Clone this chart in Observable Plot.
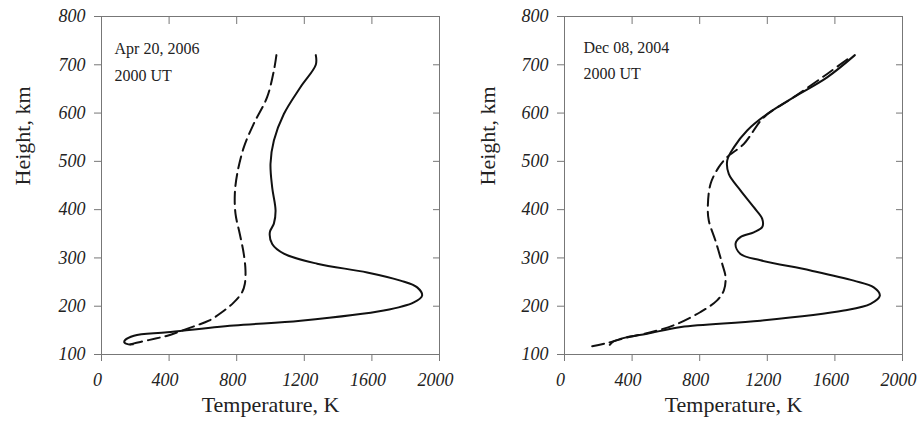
<!DOCTYPE html>
<html><head><meta charset="utf-8">
<script src="https://cdn.jsdelivr.net/npm/d3@7"></script>
<script src="https://cdn.jsdelivr.net/npm/@observablehq/plot@0.6"></script>
<style>
body{margin:0;background:#fff;}
#wrap{position:relative;width:918px;height:421px;overflow:hidden;}
.panel{position:absolute;top:0;}
</style>
</head><body><div id="wrap"></div>
<script>
const xTicks = [0, 400, 800, 1200, 1600, 2000];
const yTicks = [100, 200, 300, 400, 500, 600, 700, 800];
const xTitle = "Temperature, K";
const yTitle = "Height, km";

// Apr 20, 2006 — solid
const aprSolidH = [720, 700, 654, 598, 543, 495, 446, 398, 371, 353, 329, 309, 288, 270, 253, 239, 222, 208, 191, 170, 160, 146, 139, 130, 125, 121, 121];
const aprSolidT = [1268, 1268, 1178, 1079, 1020, 1000, 1010, 1030, 1020, 996, 1010, 1079, 1276, 1572, 1769, 1868, 1897, 1848, 1670, 1178, 783, 389, 192, 140, 135, 160, 185];
// Apr 20, 2006 — dashed
const aprDashH = [720, 688, 633, 578, 529, 474, 433, 391, 350, 308, 274, 246, 229, 208, 188, 170, 160, 150, 139, 133, 126, 121];
const aprDashT = [1035, 1020, 980, 901, 842, 803, 789, 793, 818, 842, 852, 848, 832, 783, 714, 635, 560, 480, 390, 320, 230, 170];

// Dec 08, 2004 — solid
const decSolidH = [720, 674, 633, 598, 564, 529, 502, 474, 440, 405, 381, 364, 353, 343, 329, 308, 295, 274, 253, 239, 222, 205, 191, 170, 157, 143, 135, 127, 120];
const decSolidT = [1718, 1554, 1357, 1199, 1081, 1002, 963, 972, 1041, 1120, 1170, 1170, 1120, 1041, 1012, 1041, 1160, 1456, 1712, 1830, 1866, 1811, 1653, 1160, 690, 489, 360, 290, 268];
// Dec 08, 2004 — dashed
const decDashH = [117, 123, 135, 146, 162, 188, 212, 233, 260, 288, 336, 377, 405, 453, 488, 509, 536, 591, 633, 681, 716];
const decDashT = [164, 243, 370, 510, 657, 805, 903, 943, 953, 933, 893, 854, 848, 864, 913, 963, 1061, 1179, 1357, 1554, 1692];

const panels = [
  {label1: "Apr 20, 2006", label2: "2000 UT", sH: aprSolidH, sT: aprSolidT, dH: aprDashH, dT: aprDashT,
   left: 0, marginLeft: 101, marginRight: 20, lx: 77, ly1: 732, ly2: 678, titleDx: -79},
  {label1: "Dec 08, 2004", label2: "2000 UT", sH: decSolidH, sT: decSolidT, dH: decDashH, dT: decDashT,
   left: 459, marginLeft: 105, marginRight: 16, lx: 112, ly1: 734, ly2: 682, titleDx: -77}
];

const axisColor = "#777";
const textColor = "#222";
const serif = "'Liberation Serif', 'Times New Roman', serif";
const fmt = d3.format("d");

for (const p of panels) {
  const solid = p.sH.map((h, i) => ({h, t: p.sT[i]}));
  const dash = p.dH.map((h, i) => ({h, t: p.dT[i]}));
  const chart = Plot.plot({
    width: 459, height: 421,
    marginLeft: p.marginLeft, marginRight: p.marginRight, marginTop: 16, marginBottom: 67,
    x: {domain: [0, 2000]},
    y: {domain: [100, 800]},
    style: {fontFamily: serif, background: "white", overflow: "visible"},
    marks: [
      Plot.frame({stroke: axisColor}),
      Plot.axisX({anchor: "top", ticks: xTicks, tickSize: 7, dy: 7, tickFormat: () => "", stroke: axisColor, label: null}),
      Plot.axisY({anchor: "right", ticks: yTicks, tickSize: 7, dx: -7, tickFormat: () => "", stroke: axisColor, label: null}),
      Plot.axisX({ticks: xTicks, tickSize: 7, tickFormat: () => "", stroke: axisColor, label: null}),
      Plot.axisX({ticks: xTicks, tickFormat: fmt, tickSize: 0, tickPadding: 19, dx: -4, fontSize: 18, fontStyle: "italic", fontFamily: serif, fill: textColor, label: null}),
      Plot.axisY({ticks: yTicks, tickFormat: fmt, tickSize: 7, tickPadding: 9, fontSize: 18, fontStyle: "italic", fontFamily: serif, stroke: axisColor, fill: textColor, label: null}),
      Plot.text([xTitle], {frameAnchor: "bottom", dy: 57, text: d => d, fontSize: 22, fontFamily: serif, fill: textColor}),
      Plot.text([yTitle], {frameAnchor: "left", dx: p.titleDx, rotate: -90, text: d => d, fontSize: 22, fontFamily: serif, fill: textColor}),
      Plot.text([p.label1], {x: p.lx, y: p.ly1, text: d => d, textAnchor: "start", fontSize: 16, fontFamily: serif, fill: textColor}),
      Plot.text([p.label2], {x: p.lx, y: p.ly2, text: d => d, textAnchor: "start", fontSize: 16, fontFamily: serif, fill: textColor}),
      Plot.line(dash, {x: "t", y: "h", curve: "catmull-rom", stroke: "#111", strokeWidth: 2, strokeDasharray: "12,6"}),
      Plot.line(solid, {x: "t", y: "h", curve: "catmull-rom", stroke: "#111", strokeWidth: 2})
    ]
  });
  chart.classList.add("panel");
  chart.style.left = p.left + "px";
  document.getElementById("wrap").appendChild(chart);
  d3.select(chart).selectAll('g[aria-label$="tick label"] text')
    .style("font-family", "'Liberation Serif'")
    .style("font-style", "italic");
}
</script>
</body></html>
